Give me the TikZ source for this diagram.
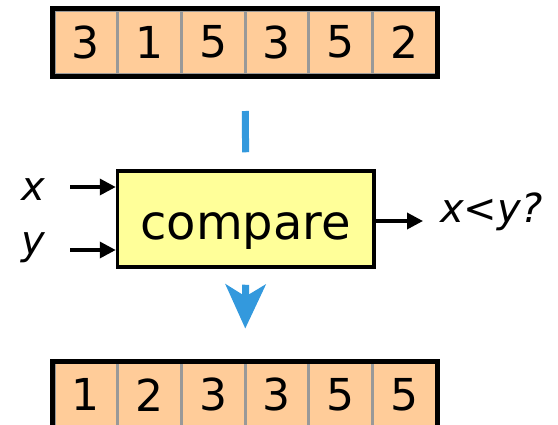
\documentclass[tikz,border=0pt]{standalone}
\usepackage{fontspec}
\setmainfont{DejaVu Sans}
\usetikzlibrary{arrows.meta,fit,calc}
\definecolor{peach}{HTML}{FFCC99}
\definecolor{paleyellow}{HTML}{FFFF99}
\definecolor{arrowblue}{HTML}{3399DD}
\definecolor{divgray}{HTML}{999999}
\tikzset{
  cell/.style={fill=peach, draw=divgray, line width=3pt, minimum width=63.67pt, minimum height=64.5pt, inner sep=0pt, font=\fontsize{44}{48}\selectfont},
  frame/.style={draw=black, line width=5pt, inner sep=0pt},
  cmpbox/.style={fill=paleyellow, draw=black, line width=3.5pt, minimum width=256.5pt, minimum height=96pt, inner sep=0pt, text height=40pt, text depth=0pt, font=\fontsize{48}{52}\selectfont},
  lbl/.style={font=\fontsize{40}{44}\selectfont\itshape, inner sep=0pt},
  inarrow/.style={line width=3.5pt, -{Triangle[length=16pt,width=16pt]}},
  bluebar/.style={draw=arrowblue, line width=7pt},
}
\begin{document}
\begin{tikzpicture}[x=1pt,y=-1pt]
\useasboundingbox (0,0) rectangle (558,424);
% top array
\foreach \v [count=\i] in {3,1,5,3,5,2}
  \node[cell] (t\i) at ({54+63.67*(\i-0.5)},42.25) {\v};
\node[frame, fit=(t1)(t6)] (tarr) {};
% bottom array
\foreach \v [count=\i] in {1,2,3,3,5,5}
  \node[cell] (b\i) at ({54+63.67*(\i-0.5)},394.75) {\v};
\node[frame, fit=(b1)(b6)] (barr) {};
% compare box
\node[cmpbox] (cmp) at (245.75,219) {compare};
% labels
\node[lbl, anchor=base] (xl) at (33,200) {x};
\node[lbl, anchor=base] (yl) at (33,254) {y};
\node[lbl, anchor=base west] (out) at (440,222) {x<y?};
\coordinate (xs) at (70,187);
\coordinate (ys) at (70,250);
\coordinate (oy) at (0,221);
\draw[inarrow] (xs) -- (xs -| cmp.west);
\draw[inarrow] (ys) -- (ys -| cmp.west);
\draw[inarrow, shorten >=17pt] (cmp.east |- oy) -- (out.west |- oy);
% blue flow
\draw[bluebar, shorten <=32.5pt, shorten >=17pt] (tarr.south) -- (cmp.north);
\draw[bluebar, -{Stealth[length=44pt,width=40pt,inset=12pt]}, shorten <=16pt, shorten >=30pt] (cmp.south) -- (barr.north);
\end{tikzpicture}
\end{document}
